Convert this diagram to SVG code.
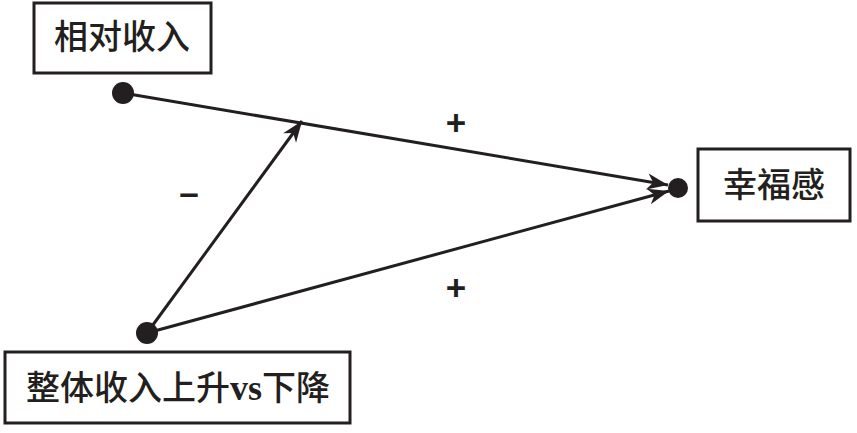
<svg xmlns="http://www.w3.org/2000/svg" width="857" height="433" viewBox="0 0 857 433">
<style>
.box{fill:#fff;stroke:#231f20;stroke-width:3}
.lbl{font-family:"Noto Sans CJK SC","Noto Sans",sans-serif;font-size:34px;font-weight:500;fill:#231f20;text-anchor:middle}
.vs{font-family:"Liberation Serif",serif;font-weight:700;font-size:36px}
.dot{fill:#231f20}
.edge{stroke:#231f20;stroke-width:3;fill:none}
.sign{font-family:"Liberation Sans",Arial,sans-serif;font-size:35px;font-weight:700;fill:#231f20;text-anchor:middle}
</style>
<defs>
<marker id="arr" markerUnits="userSpaceOnUse" markerWidth="24" markerHeight="18" viewBox="-22 -9 24 18" refX="0" refY="0" orient="auto">
<path d="M0,0 L-21,-8 L-15,0 L-21,8 Z" fill="#231f20"/>
</marker>
</defs>
<rect width="857" height="433" fill="#fff"/>
<g id="connectors">
<line class="edge" x1="123" y1="93" x2="668" y2="185" marker-end="url(#arr)"/>
<line class="edge" x1="147" y1="333" x2="669" y2="191" marker-end="url(#arr)"/>
<line class="edge" x1="147" y1="333" x2="302" y2="121" marker-end="url(#arr)"/>
<text class="sign" x="456" y="135">+</text>
<text class="sign" x="456" y="300">+</text>
<text class="sign" x="189" y="205">–</text>
</g>
<g id="node-relative">
<rect class="box" x="34" y="3" width="177" height="70"/>
<text class="lbl" x="122" y="49">相对收入</text>
<circle class="dot" cx="123" cy="93" r="11"/>
</g>
<g id="node-happiness">
<rect class="box" x="698" y="149" width="152" height="72"/>
<text class="lbl" x="774" y="197">幸福感</text>
<circle class="dot" cx="678" cy="188" r="10"/>
</g>
<g id="node-overall">
<rect class="box" x="5" y="352" width="345" height="71"/>
<text class="lbl" x="178" y="400">整体收入上升<tspan class="vs">vs</tspan>下降</text>
<circle class="dot" cx="147" cy="333" r="11"/>
</g>
</svg>
